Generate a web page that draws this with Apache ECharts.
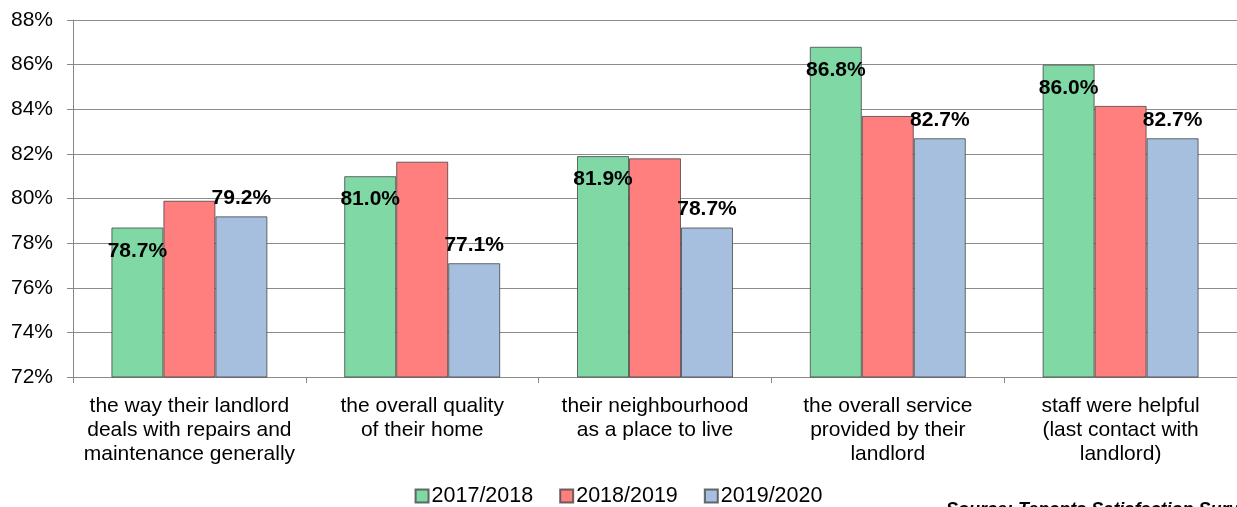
<!DOCTYPE html>
<html>
<head>
<meta charset="utf-8">
<script src="https://cdn.jsdelivr.net/npm/echarts@6/dist/echarts.min.js"></script>
<style>
  html, body { margin: 0; padding: 0; background: #fff; }
  #chart { width: 1237px; height: 507px; }
</style>
</head>
<body>
<div id="chart"></div>
<script>
// Satisfaction by survey year, per question
const categories = [
  'the way their landlord\ndeals with repairs and\nmaintenance generally',
  'the overall quality\nof their home',
  'their neighbourhood\nas a place to live',
  'the overall service\nprovided by their\nlandlord',
  'staff were helpful\n(last contact with\nlandlord)'
];
const seriesNames = ['2017/2018', '2018/2019', '2019/2020'];
const values2017 = [78.7, 81.0, 81.9, 86.8, 86.0];
const values2018 = [79.9, 81.65, 81.8, 83.7, 84.15];
const values2019 = [79.2, 77.1, 78.7, 82.7, 82.7];
const yTicks = { min: 72, max: 88, interval: 2 };
const sourceNote = 'Source: Tenants Satisfaction Survey';

const FONT = '"Liberation Sans", Arial, sans-serif';
const colors = ['#80D8A5', '#FF7F7F', '#A7BFDF'];

const pctLabel = p => p.value.toFixed(1) + '%';

const chart = echarts.init(document.getElementById('chart'), null, { renderer: 'canvas' });
chart.setOption({
  animation: false,
  textStyle: { fontFamily: FONT },
  grid: { left: 73, right: -1, top: 20, bottom: 130, containLabel: false },
  legend: {
    top: 480,
    left: 'center',
    itemWidth: 13,
    itemHeight: 13,
    itemGap: 26,
    icon: 'rect',
    textStyle: { fontFamily: FONT, fontSize: 21.5, color: '#000', padding: [0, 0, 0, -2] },
    data: seriesNames
  },
  xAxis: {
    type: 'category',
    data: categories,
    axisLine: { lineStyle: { color: '#888', width: 1 } },
    axisTick: { show: true, length: 6, lineStyle: { color: '#888' } },
    axisLabel: {
      interval: 0,
      margin: 17,
      fontFamily: FONT,
      fontSize: 21,
      color: '#000',
      lineHeight: 24,
      align: 'center'
    }
  },
  yAxis: {
    type: 'value',
    min: yTicks.min,
    max: yTicks.max,
    interval: yTicks.interval,
    axisLine: { show: true, lineStyle: { color: '#888', width: 1 } },
    axisTick: { show: true, length: 6, lineStyle: { color: '#888' } },
    splitLine: { lineStyle: { color: '#8c8c8c', width: 1 } },
    axisLabel: {
      formatter: '{value}%',
      fontFamily: FONT,
      fontSize: 21,
      color: '#000',
      margin: 20
    }
  },
  series: [
    {
      name: seriesNames[0],
      type: 'bar',
      data: values2017,
      barGap: '0%',
      barCategoryGap: '33%',
      itemStyle: { color: colors[0], borderColor: 'rgba(60,60,60,0.75)', borderWidth: 1 },
      label: {
        show: true,
        position: 'insideTop',
        distance: 13,
        formatter: pctLabel,
        fontFamily: FONT,
        fontSize: 21,
        fontWeight: 'bold',
        color: '#000'
      }
    },
    {
      name: seriesNames[1],
      type: 'bar',
      data: values2018,
      itemStyle: { color: colors[1], borderColor: 'rgba(60,60,60,0.75)', borderWidth: 1 }
    },
    {
      name: seriesNames[2],
      type: 'bar',
      data: values2019,
      itemStyle: { color: colors[2], borderColor: 'rgba(60,60,60,0.75)', borderWidth: 1 },
      label: {
        show: true,
        position: 'top',
        distance: 8,
        formatter: pctLabel,
        fontFamily: FONT,
        fontSize: 21,
        fontWeight: 'bold',
        color: '#000'
      }
    }
  ],
  graphic: [
    {
      type: 'text',
      left: 946,
      top: 501,
      style: {
        text: sourceNote,
        font: 'italic bold 18px ' + FONT,
        fill: '#000'
      }
    }
  ]
});
</script>
</body>
</html>
